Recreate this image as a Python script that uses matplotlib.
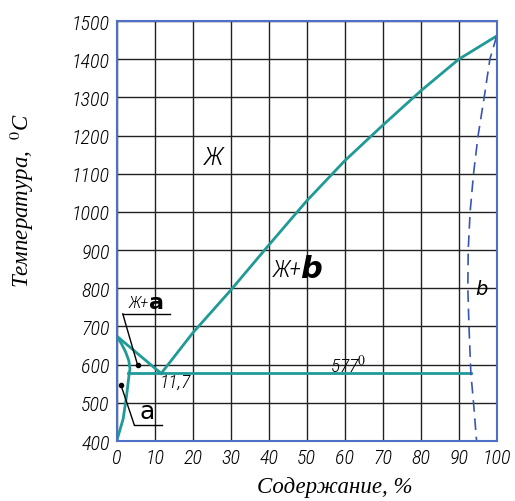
import numpy as np
import matplotlib.pyplot as plt

# data
liq_left_x = [0, 11.7]
liq_left_y = [675, 577]
liq_right_x = [11.7, 20, 30, 40, 50, 60, 70, 80, 90, 100]
liq_right_y = [577, 683, 795, 913, 1029, 1134, 1227, 1317, 1400, 1461]
alpha_x = [0, 1.3, 2.4, 3.2, 3.5, 3.3, 2.6, 1.7, 0]
alpha_y = [675, 654, 632, 610, 589, 577, 519, 458, 400]
eut_x = [3.1, 93.2]
eut_y = [577, 577]
beta_x = [100, 98.2, 96.7, 95.1, 93.9, 93.0, 92.5, 92.4, 92.7, 93.2, 93.9, 94.7]
beta_y = [1461, 1400, 1300, 1200, 1100, 1000, 900, 800, 700, 577, 500, 400]
x_ticks = list(range(0, 101, 10))
y_ticks = list(range(400, 1501, 100))

TEAL = '#1f9a96'
BLUE = '#3a55b0'
narrow = ['Roboto Condensed', 'PT Sans Narrow', 'Fira Sans Condensed',
          'Liberation Sans Narrow', 'DejaVu Sans']
lab_font = 'Liberation Serif'

plt.rcParams['mathtext.fontset'] = 'stix'

fig = plt.figure(figsize=(5.15, 5.02), dpi=100)
ax = fig.add_axes([0.2266, 0.1195, 0.7379, 0.8365])

ax.plot(liq_left_x, liq_left_y, color=TEAL, lw=2)
ax.plot(liq_right_x, liq_right_y, color=TEAL, lw=2)
ax.plot(alpha_x, alpha_y, color=TEAL, lw=2)
ax.plot(eut_x, eut_y, color=TEAL, lw=2)
ax.plot(beta_x, beta_y, color=BLUE, lw=1.2, dashes=(7, 4))

ax.set_xlim(0, 100)
ax.set_ylim(400, 1500)
ax.set_xticks(x_ticks)
ax.set_yticks(y_ticks)
ax.grid(True, color='#222222', lw=1)
ax.set_axisbelow(True)
ax.tick_params(length=0, pad=5)
for lbl in ax.get_xticklabels() + ax.get_yticklabels():
    lbl.set_family(narrow)
    lbl.set_style('italic')
    lbl.set_weight('light')
    lbl.set_size(14.5)
for sp in ax.spines.values():
    sp.set_color('#5070c8')
    sp.set_linewidth(1.5)

# axis titles, placed as in the original
fig.text(335 / 515, 1 - 488 / 502, 'Содержание, %', family=lab_font, style='italic',
         size=16.5, ha='center', va='center')
fig.text(22 / 515, 1 - 200 / 502, 'Температура,  $^{0}$C', family=lab_font, style='italic',
         size=16.5, ha='center', va='center', rotation=90)

# region labels
tf = dict(family=narrow, style='italic', weight='light')
ax.text(25.5, 1145, 'Ж', size=19, ha='center', va='center', **tf)
ax.text(45.0, 850, 'Ж+', size=17, ha='center', va='center', **tf)
ax.text(51.0, 853, 'b', size=22, ha='center', va='center', family='DejaVu Sans',
        style='italic', weight='bold')
ax.text(96, 800, 'b', size=14, ha='center', va='center', family='DejaVu Sans', style='italic')
ax.text(61, 600, '577$^{0}$', size=14, ha='center', va='center', **tf)
ax.text(15.3, 555, '11,7', size=14, ha='center', va='center', **tf)

# Ж+a leader
ax.text(3.2, 763, 'Ж+', size=12, ha='left', va='center', **tf)
ax.text(8.6, 765, 'a', size=16, ha='left', va='center', family='DejaVu Sans', weight='bold')
ax.plot([1.6, 14], [733, 733], color='black', lw=1)
ax.plot([1.6, 5.5], [733, 599], color='black', lw=1)
ax.plot([5.5], [599], 'o', color='black', ms=3)

# a leader
ax.text(8.0, 478, 'a', size=18, ha='center', va='center', family='DejaVu Sans')
ax.plot([4.6, 12], [443, 443], color='black', lw=1)
ax.plot([4.6, 1.1], [443, 547], color='black', lw=1)
ax.plot([1.1], [547], 'o', color='black', ms=3)

fig.savefig('out.png', dpi=100)
